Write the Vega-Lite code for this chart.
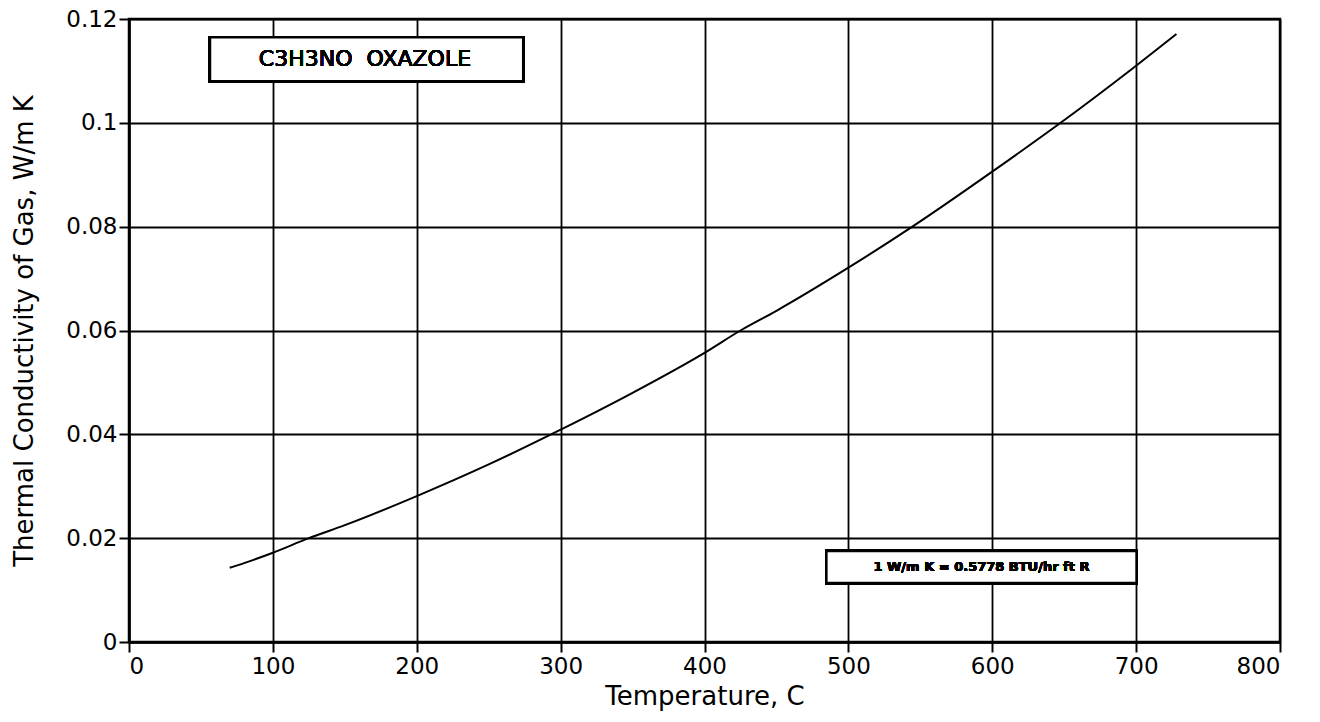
{
  "$schema": "https://vega.github.io/schema/vega-lite/v6.json",
  "autosize": {"type": "none"},
  "width": 1151,
  "height": 623,
  "padding": {"left": 129, "top": 19, "right": 40, "bottom": 80},
  "background": "white",
  "config": {
    "view": {"stroke": "black", "strokeWidth": 2.5},
    "font": "DejaVu Sans",
    "axis": {
      "gridColor": "black", "gridWidth": 1.8, "gridOpacity": 1,
      "domainColor": "black", "domainWidth": 2.5,
      "tickColor": "black", "tickWidth": 2, "tickSize": 10,
      "labelFont": "DejaVu Sans", "labelFontSize": 23, "labelColor": "black",
      "titleFont": "DejaVu Sans", "titleFontSize": 26, "titleFontWeight": "normal", "titleColor": "black"
    }
  },
  "data": {"values": [
    {"T": 70, "k": 0.0143},
    {"T": 80, "k": 0.0152},
    {"T": 100, "k": 0.0172},
    {"T": 125, "k": 0.0200},
    {"T": 150, "k": 0.0225},
    {"T": 200, "k": 0.0281},
    {"T": 250, "k": 0.0342},
    {"T": 300, "k": 0.0409},
    {"T": 350, "k": 0.0480},
    {"T": 400, "k": 0.0557},
    {"T": 425, "k": 0.0600},
    {"T": 450, "k": 0.0638},
    {"T": 500, "k": 0.0721},
    {"T": 545, "k": 0.0801},
    {"T": 600, "k": 0.0906},
    {"T": 648, "k": 0.1001},
    {"T": 700, "k": 0.1110},
    {"T": 728, "k": 0.1171}
  ]},
  "layer": [
    {
      "mark": {"type": "line", "color": "black", "strokeWidth": 2, "interpolate": "monotone"},
      "encoding": {
        "x": {"field": "T", "type": "quantitative", "scale": {"domain": [0, 800], "nice": false},
              "axis": {"values": [0,100,200,300,400,500,600,700,800], "title": "Temperature, C", "grid": true, "labelPadding": 3, "titlePadding": 5}},
        "y": {"field": "k", "type": "quantitative", "scale": {"domain": [0, 0.12], "nice": false},
              "axis": {"values": [0,0.02,0.04,0.06,0.08,0.1,0.12], "format": ".2~f", "title": "Thermal Conductivity of Gas, W/m K", "grid": true, "labelPadding": 2, "titlePadding": 28}}
      }
    },
    {
      "mark": {"type": "rect", "fill": "white", "stroke": "black", "strokeWidth": 2.5},
      "encoding": {
        "x": {"datum": 56.3, "type": "quantitative"},
        "x2": {"datum": 274},
        "y": {"datum": 0.1165, "type": "quantitative"},
        "y2": {"datum": 0.108}
      }
    },
    {
      "mark": {"type": "text", "text": "C3H3NO\u00a0\u00a0OXAZOLE", "fontSize": 22, "font": "DejaVu Sans", "color": "black", "align": "center", "baseline": "middle"},
      "encoding": {
        "x": {"datum": 164, "type": "quantitative"},
        "y": {"datum": 0.1123, "type": "quantitative"}
      }
    },
    {
      "mark": {"type": "rect", "fill": "white", "stroke": "black", "strokeWidth": 2.5},
      "encoding": {
        "x": {"datum": 484.7, "type": "quantitative"},
        "x2": {"datum": 700.3},
        "y": {"datum": 0.01753, "type": "quantitative"},
        "y2": {"datum": 0.01136}
      }
    },
    {
      "mark": {"type": "text", "text": "1 W/m K = 0.5778 BTU/hr ft R", "fontSize": 13, "fontWeight": "bold", "font": "DejaVu Sans", "color": "black", "align": "center", "baseline": "middle"},
      "encoding": {
        "x": {"datum": 592.5, "type": "quantitative"},
        "y": {"datum": 0.01444, "type": "quantitative"}
      }
    }
  ]
}
